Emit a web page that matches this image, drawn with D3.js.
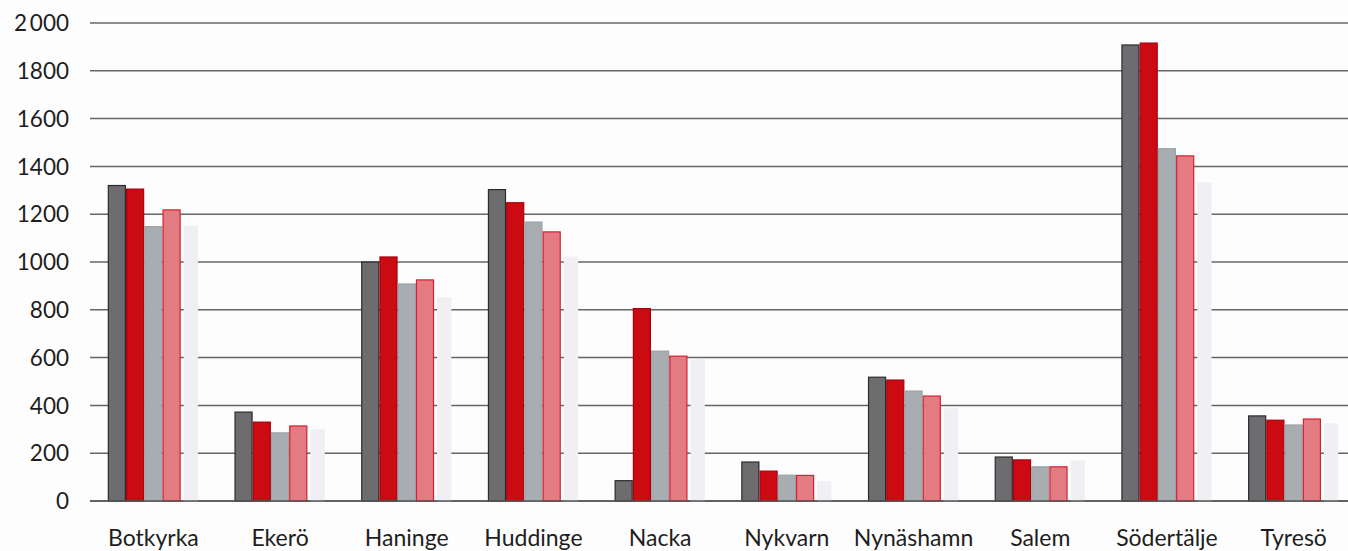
<!DOCTYPE html>
<html>
<head>
<meta charset="utf-8">
<script src="https://cdn.jsdelivr.net/npm/d3@7"></script>
<style>
  html, body { margin: 0; padding: 0; background: #fdfdfd; }
  svg { display: block; }
</style>
</head>
<body>
<svg id="chart" width="1348" height="551"></svg>
<script>
const categories = ["Botkyrka", "Ekerö", "Haninge", "Huddinge", "Nacka", "Nykvarn", "Nynäshamn", "Salem", "Södertälje", "Tyresö"];
const seriesNames = ["s1", "s2", "s3", "s4", "s5"];
const series1 = [1320, 372, 1000, 1303, 85, 163, 518, 184, 1908, 356];
const series2 = [1305, 330, 1021, 1248, 805, 125, 506, 172, 1916, 338];
const series3 = [1148, 285, 908, 1167, 627, 108, 460, 143, 1474, 318];
const series4 = [1218, 314, 925, 1126, 606, 107, 439, 143, 1444, 343];
const series5 = [1150, 298, 850, 1020, 590, 80, 385, 167, 1330, 322];
const yTicks = [0, 200, 400, 600, 800, 1000, 1200, 1400, 1600, 1800, 2000];
const yTickLabels = ["0", "200", "400", "600", "800", "1000", "1200", "1400", "1600", "1800", "2\u2009000"];

const allSeries = [series1, series2, series3, series4, series5];
const fills = ["#6d6d70", "#cc0a12", "#a8adb2", "#e47a82", "#efeff4"];
const strokes = ["#2b2b2e", "#a80010", "#9aa3a8", "#d42030", "#efeff4"];

const svg = d3.select("#chart");
const y = d3.scaleLinear().domain([0, 2000]).range([501, 23]);
const x0 = d3.scaleBand().domain(categories).range([90, 1357]).paddingInner(0.28).paddingOuter(0.14);
const x1 = d3.scaleBand().domain(seriesNames).range([0, x0.bandwidth()]);

// grid
const gridG = svg.append("g");
gridG.selectAll("line").data(yTicks).join("line")
  .attr("x1", 90).attr("x2", 1348)
  .attr("y1", d => y(d)).attr("y2", d => y(d))
  .attr("stroke", "#666666").attr("stroke-width", 1.5);

// y labels
svg.append("g").selectAll("text").data(yTicks).join("text")
  .attr("x", 69).attr("y", d => y(d)).attr("dy", "0.36em")
  .attr("text-anchor", "end")
  .attr("font-family", "Lato, 'Open Sans', sans-serif")
  .attr("font-size", 22.5).attr("fill", "#1e1e1e")
  .text((d, i) => yTickLabels[i]);

// bars
const groups = svg.append("g").selectAll("g").data(categories).join("g")
  .attr("transform", d => `translate(${x0(d)},0)`);
groups.selectAll("rect")
  .data((c, ci) => seriesNames.map((s, si) => ({ s, si, v: allSeries[si][ci] })))
  .join("rect")
  .attr("x", d => x1(d.s) + 0.6 + (d.si === 4 ? 3 : 0))
  .attr("width", d => x1.bandwidth() - 1.2 - (d.si === 4 ? 4 : 0))
  .attr("y", d => y(d.v))
  .attr("height", d => y(0) - y(d.v))
  .attr("fill", d => fills[d.si])
  .attr("stroke", d => strokes[d.si])
  .attr("stroke-width", 1.2);

// baseline over bars
svg.append("line").attr("x1", 90).attr("x2", 1348)
  .attr("y1", y(0)).attr("y2", y(0))
  .attr("stroke", "#555555").attr("stroke-width", 1.5);

// category labels
svg.append("g").selectAll("text").data(categories).join("text")
  .attr("x", d => x0(d) + x0.bandwidth() / 2)
  .attr("y", 546)
  .attr("text-anchor", "middle")
  .attr("font-family", "Lato, 'Open Sans', sans-serif")
  .attr("font-size", 23).attr("fill", "#1e1e1e")
  .text(d => d);
</script>
</body>
</html>
